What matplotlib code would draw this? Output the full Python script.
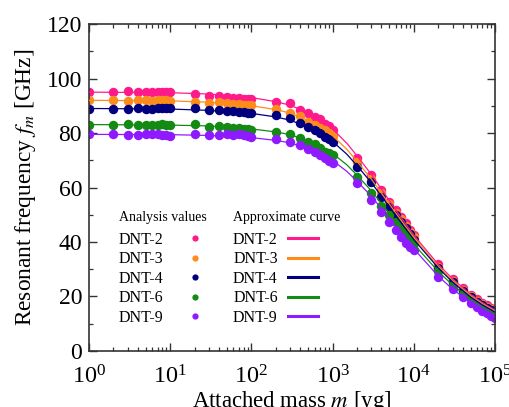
import matplotlib
matplotlib.use("Agg")
import matplotlib.pyplot as plt
from matplotlib.ticker import MultipleLocator, LogLocator

plt.rcParams['font.family'] = ['Liberation Serif', 'DejaVu Serif']
plt.rcParams['mathtext.fontset'] = 'stix'

# attached mass [yg] for the analysis points
mass = [1, 2, 3, 4, 5, 6, 7, 8, 9,
        10, 20, 30, 40, 50, 60, 70, 80, 90,
        100, 200, 300, 400, 500, 600, 700, 800, 900,
        1e3, 2e3, 3e3, 4e3, 5e3, 6e3, 7e3, 8e3, 9e3,
        1e4, 2e4, 3e4, 4e4, 5e4, 6e4, 7e4, 8e4, 9e4, 1e5]

f_dnt2 = [95.0, 95.1, 95.3, 95.0, 95.2, 95.2, 95.1, 95.0, 95.0,
          94.9, 94.4, 93.4, 93.6, 93.3, 93.0, 92.8, 92.6, 92.5,
          92.4, 91.3, 91.0, 88.4, 87.2, 85.8, 85.0, 83.2, 82.6,
          81.1, 70.9, 64.6, 59.1, 54.8, 51.7, 49.1, 46.8, 44.4,
          42.6, 31.9, 26.4, 23.0, 20.6, 19.0, 17.7, 16.8, 15.9, 15.0]
f_dnt3 = [92.1, 92.0, 91.8, 92.1, 92.0, 91.9, 92.0, 92.1, 92.0,
          91.9, 91.3, 91.0, 91.2, 90.9, 90.7, 90.6, 90.4, 90.3,
          90.2, 88.8, 87.4, 86.4, 84.2, 83.0, 82.0, 81.0, 80.0,
          78.8, 69.2, 63.3, 57.9, 53.9, 50.8, 48.3, 45.9, 43.6,
          41.7, 31.0, 25.8, 22.4, 20.1, 18.5, 17.2, 16.3, 15.4, 14.6]
f_dnt4 = [88.8, 88.9, 88.8, 89.2, 88.8, 88.9, 89.0, 89.1, 89.2,
          89.0, 89.1, 88.4, 88.5, 88.2, 88.0, 87.8, 87.6, 87.4,
          87.3, 86.5, 85.4, 83.8, 82.2, 81.0, 79.9, 78.6, 77.7,
          76.8, 67.6, 62.1, 56.6, 53.0, 49.9, 47.5, 45.0, 42.8,
          40.7, 30.4, 25.2, 22.0, 19.7, 18.1, 16.9, 15.9, 15.1, 14.3]
f_dnt6 = [83.1, 82.9, 83.2, 82.8, 83.1, 83.0, 83.1, 83.2, 83.1,
          82.9, 83.3, 82.3, 82.7, 82.2, 82.0, 81.8, 81.6, 81.3,
          81.1, 80.4, 79.6, 78.3, 76.8, 75.8, 74.6, 73.1, 72.5,
          71.9, 64.0, 58.1, 53.2, 49.9, 47.5, 45.0, 42.8, 41.0,
          39.5, 29.2, 24.2, 21.1, 18.9, 17.3, 16.1, 15.1, 14.3, 13.5]
f_dnt9 = [79.6, 79.5, 79.2, 79.4, 79.5, 79.6, 79.5, 79.3, 79.4,
          79.0, 79.6, 79.3, 79.2, 79.5, 79.3, 79.6, 79.2, 78.9,
          78.6, 77.8, 76.8, 75.6, 74.0, 73.1, 71.9, 70.7, 69.7,
          68.9, 61.5, 55.4, 51.1, 47.5, 44.4, 41.9, 39.7, 38.3,
          37.1, 27.0, 22.6, 19.7, 17.5, 16.0, 14.8, 13.8, 13.0, 12.2]

# approximate curves
mass_fit = [1, 10, 30, 100, 200, 300, 500, 700, 1000, 1500, 2000, 3000,
            5000, 7000, 1e4, 2e4, 3e4, 5e4, 7e4, 1e5]
fit_dnt2 = [95.0, 94.8, 94.3, 93.0, 91.5, 90.2, 87.4, 84.9, 81.5, 76.2, 71.6, 64.8,
            55.2, 48.9, 42.5, 31.8, 26.5, 20.8, 17.7, 15.0]
fit_dnt3 = [92.0, 91.8, 91.3, 90.0, 88.6, 87.3, 84.6, 82.2, 79.0, 74.0, 69.6, 63.1,
            53.9, 47.9, 41.7, 31.1, 25.9, 20.3, 17.3, 14.6]
fit_dnt4 = [89.0, 88.8, 88.3, 87.2, 85.9, 84.7, 82.2, 80.0, 76.9, 72.2, 68.0, 61.8,
            52.9, 47.0, 40.9, 30.5, 25.3, 19.8, 16.9, 14.3]
fit_dnt6 = [83.1, 82.9, 82.6, 81.5, 80.4, 79.4, 77.2, 75.2, 72.5, 68.3, 64.5, 58.8,
            50.5, 44.9, 39.2, 29.2, 24.2, 19.0, 16.1, 13.6]
fit_dnt9 = [79.5, 79.4, 79.1, 78.3, 77.3, 76.4, 74.3, 72.5, 69.9, 65.9, 62.3, 56.8,
            48.7, 43.2, 37.5, 27.5, 22.7, 17.8, 15.0, 12.6]

names = ['DNT-2', 'DNT-3', 'DNT-4', 'DNT-6', 'DNT-9']
colors = ['#ff1a8c', '#ff8c1a', '#00007f', '#138a13', '#8f1aff']
points = [f_dnt2, f_dnt3, f_dnt4, f_dnt6, f_dnt9]
fits = [fit_dnt2, fit_dnt3, fit_dnt4, fit_dnt6, fit_dnt9]

fig = plt.figure(figsize=(5.10, 4.07), dpi=100)
ax = fig.add_axes([0.1745, 0.1376, 0.7961, 0.8034])

pt_handles = []
ln_handles = []
for name, c, y, yf in zip(names, colors, points, fits):
    ax.plot(mass, y, 'o', color=c, ms=6.8, mec='none', zorder=2)
    ax.plot(mass_fit, yf, '-', color=c, lw=0.9, zorder=3)
    pt_handles.append(ax.plot([], [], 'o', color=c, ms=4.5, mec='none')[0])
    ln_handles.append(ax.plot([], [], '-', color=c, lw=2.2)[0])

ax.set_xscale('log')
ax.set_xlim(1, 1e5)
ax.set_ylim(0, 120)
ax.yaxis.set_major_locator(MultipleLocator(20))
ax.yaxis.set_minor_locator(MultipleLocator(10))
ax.xaxis.set_major_locator(LogLocator(base=10, numticks=10))
ax.xaxis.set_minor_locator(LogLocator(base=10, subs=range(2, 10), numticks=20))

ax.tick_params(which='both', direction='in', top=True, right=True, color='#333333')
ax.tick_params(which='major', length=6, width=1.0)
ax.tick_params(which='minor', length=3, width=0.9)
ax.tick_params(axis='x', which='major', labelsize=17.5, pad=10)
ax.tick_params(axis='y', which='major', labelsize=17, pad=5)
for sp in ax.spines.values():
    sp.set_color('#333333')
    sp.set_linewidth(1.2)

ax.set_xlabel('Attached mass $m$ [yg]', fontsize=16.4, labelpad=1)
ax.set_ylabel('Resonant frequency $f_m$ [GHz]', fontsize=16.8, labelpad=6)

leg1 = ax.legend(pt_handles, names, title='Analysis values', markerfirst=False,
                 frameon=False, fontsize=11.5, title_fontsize=10,
                 loc='upper left', bbox_to_anchor=(0.054, 0.452),
                 borderpad=0, labelspacing=0.22, handlelength=1.5,
                 handletextpad=1.2, alignment='left')
leg1._legend_box.sep = 5.5
ax.add_artist(leg1)
leg2 = ax.legend(ln_handles, names, title='Approximate curve', markerfirst=False,
                 frameon=False, fontsize=11.5, title_fontsize=10,
                 loc='upper left', bbox_to_anchor=(0.335, 0.452),
                 borderpad=0, labelspacing=0.22, handlelength=1.9,
                 handletextpad=0.63, alignment='left')
leg2._legend_box.sep = 5.5

fig.savefig('out.png', dpi=100)
